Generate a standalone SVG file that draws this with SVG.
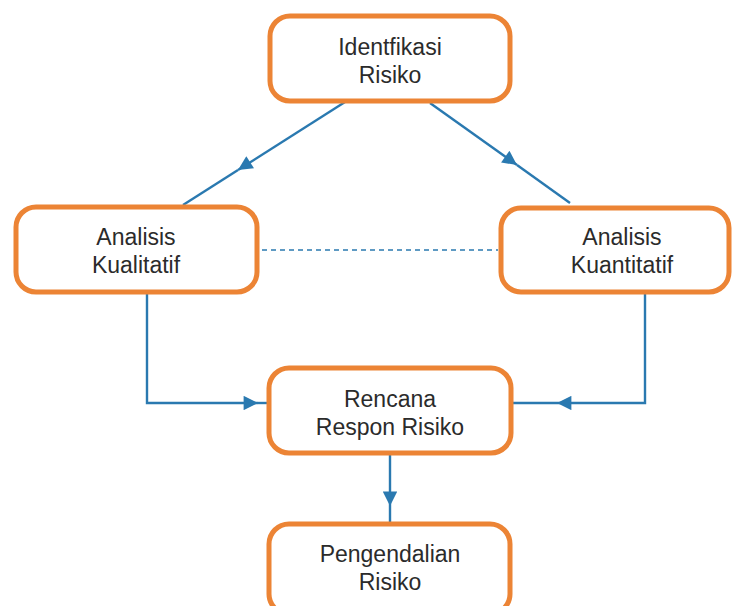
<svg xmlns="http://www.w3.org/2000/svg" width="733" height="606" viewBox="0 0 733 606">
  <style>
    .box { fill: #ffffff; stroke: #ec8435; stroke-width: 5; }
    .lbl { font-family: "Liberation Sans", Arial, sans-serif; font-size: 23px; fill: #2b2b2b; text-anchor: middle; }
    .wire { fill: none; stroke: #2a79b0; stroke-width: 2.4; }
    .dash { fill: none; stroke: #2a79b0; stroke-width: 1.6; stroke-dasharray: 5 4; }
  </style>
  <defs>
    <marker id="arrow" viewBox="0 0 10 10" refX="10" refY="5" markerWidth="6.5" markerHeight="6" markerUnits="strokeWidth" orient="auto">
      <path d="M0,0 L10,5 L0,10 Z" fill="#2a79b0"/>
    </marker>
  </defs>
  <rect width="733" height="606" fill="#ffffff"/>

  <g id="connectors">
    <!-- identification to qualitative analysis -->
    <path class="wire" d="M345,102 L238,170" marker-end="url(#arrow)"/>
    <path class="wire" d="M238,170 L183,205"/>
    <!-- identification to quantitative analysis -->
    <path class="wire" d="M430,103 L517,165" marker-end="url(#arrow)"/>
    <path class="wire" d="M517,165 L570,203"/>
    <!-- link between the two analyses -->
    <path class="dash" d="M262,250 H498"/>
    <!-- qualitative analysis to response plan -->
    <path class="wire" d="M147,293 V403 H258" marker-end="url(#arrow)"/>
    <path class="wire" d="M258,403 H268"/>
    <!-- quantitative analysis to response plan -->
    <path class="wire" d="M645,293 V403 H557" marker-end="url(#arrow)"/>
    <path class="wire" d="M557,403 H512"/>
    <!-- response plan to control -->
    <path class="wire" d="M390,454 V506" marker-end="url(#arrow)"/>
    <path class="wire" d="M390,506 V523"/>
  </g>

  <g id="identifikasi">
    <rect class="box" x="270" y="16" width="240" height="85" rx="20"/>
    <text class="lbl" x="390" y="55">Identfikasi</text>
    <text class="lbl" x="390" y="82.5">Risiko</text>
  </g>

  <g id="kualitatif">
    <rect class="box" x="16" y="207" width="241" height="85" rx="20"/>
    <text class="lbl" x="136" y="245">Analisis</text>
    <text class="lbl" x="136" y="272.5">Kualitatif</text>
  </g>

  <g id="kuantitatif">
    <rect class="box" x="501" y="208" width="228" height="84" rx="20"/>
    <text class="lbl" x="622" y="245">Analisis</text>
    <text class="lbl" x="622" y="272.5">Kuantitatif</text>
  </g>

  <g id="rencana">
    <rect class="box" x="269" y="368" width="242" height="85" rx="20"/>
    <text class="lbl" x="390" y="407">Rencana</text>
    <text class="lbl" x="390" y="434.5">Respon Risiko</text>
  </g>

  <g id="pengendalian">
    <rect class="box" x="269" y="524" width="241" height="90" rx="20"/>
    <text class="lbl" x="390" y="562">Pengendalian</text>
    <text class="lbl" x="390" y="589.5">Risiko</text>
  </g>
</svg>
